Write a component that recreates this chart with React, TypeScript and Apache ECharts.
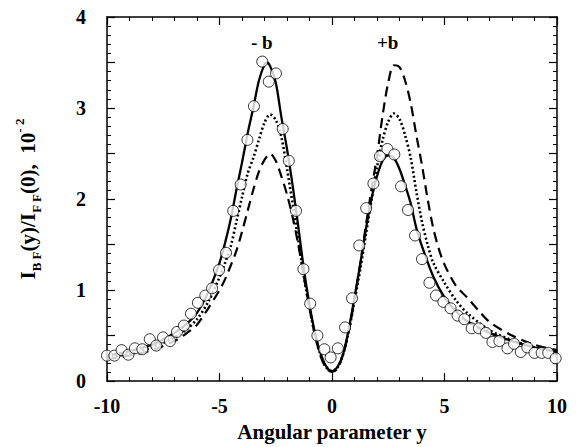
import React, { useEffect, useRef } from "react";
import * as echarts from "echarts";

const FONT = "'Liberation Serif', 'Times New Roman', serif";

const solidX = [-10, -9, -8, -7.5, -7, -6.5, -6, -5.5, -5, -4.75, -4.5, -4.25, -4, -3.75, -3.5, -3.25, -3, -2.9, -2.75, -2.5, -2.25, -2, -1.75, -1.5, -1.25, -1, -0.75, -0.5, -0.25, 0, 0.25, 0.5, 0.75, 1, 1.25, 1.5, 1.75, 2, 2.25, 2.5, 2.75, 3, 3.25, 3.5, 3.75, 4, 4.5, 5, 5.5, 6, 7, 8, 9, 10];
const solidY = [0.28, 0.33, 0.4, 0.46, 0.53, 0.62, 0.75, 0.98, 1.3, 1.52, 1.78, 2.1, 2.4, 2.72, 3.0, 3.3, 3.48, 3.5, 3.46, 3.28, 2.9, 2.55, 2.15, 1.7, 1.23, 0.84, 0.52, 0.3, 0.16, 0.11, 0.16, 0.3, 0.58, 0.92, 1.28, 1.66, 2.0, 2.25, 2.42, 2.48, 2.45, 2.33, 2.15, 1.95, 1.68, 1.48, 1.15, 0.92, 0.77, 0.66, 0.53, 0.44, 0.37, 0.32];

const dottedX = [-10, -9, -8, -7, -6.5, -6, -5.5, -5, -4.75, -4.5, -4.25, -4, -3.75, -3.5, -3.25, -3, -2.75, -2.5, -2.25, -2, -1.75, -1.5, -1.25, -1, -0.75, -0.5, -0.25, 0, 0.25, 0.5, 0.75, 1, 1.25, 1.5, 1.75, 2, 2.25, 2.5, 2.75, 3, 3.25, 3.5, 3.75, 4, 4.25, 4.5, 5, 5.5, 6, 7, 8, 9, 10];
const dottedY = [0.26, 0.3, 0.37, 0.48, 0.56, 0.68, 0.87, 1.14, 1.3, 1.48, 1.75, 2.02, 2.28, 2.45, 2.65, 2.84, 2.93, 2.87, 2.68, 2.33, 1.95, 1.55, 1.15, 0.8, 0.5, 0.28, 0.15, 0.11, 0.15, 0.3, 0.55, 0.88, 1.22, 1.6, 1.98, 2.35, 2.65, 2.85, 2.94, 2.88, 2.7, 2.45, 2.08, 1.75, 1.5, 1.3, 1.08, 0.89, 0.75, 0.56, 0.45, 0.37, 0.32];

const dashedX = [-10, -9, -8, -7, -6.5, -6, -5.5, -5, -4.75, -4.5, -4.25, -4, -3.75, -3.5, -3.25, -3, -2.75, -2.5, -2.25, -2, -1.75, -1.5, -1.25, -1, -0.75, -0.5, -0.25, 0, 0.25, 0.5, 0.75, 1, 1.25, 1.5, 1.75, 2, 2.25, 2.5, 2.75, 3, 3.25, 3.5, 3.75, 4, 4.25, 4.5, 4.75, 5, 5.5, 6, 6.5, 7, 8, 9, 10];
const dashedY = [0.24, 0.28, 0.34, 0.44, 0.52, 0.62, 0.8, 1.0, 1.12, 1.27, 1.43, 1.64, 1.87, 2.1, 2.3, 2.43, 2.5, 2.42, 2.25, 2.05, 1.8, 1.5, 1.15, 0.8, 0.5, 0.27, 0.14, 0.1, 0.14, 0.3, 0.55, 0.9, 1.28, 1.7, 2.1, 2.47, 2.92, 3.28, 3.47, 3.45, 3.3, 3.05, 2.7, 2.37, 2.0, 1.68, 1.45, 1.28, 1.05, 0.92, 0.78, 0.65, 0.5, 0.4, 0.34];

const circleX = [-10.0, -9.67, -9.35, -9.05, -8.76, -8.43, -8.1, -7.81, -7.51, -7.2, -6.89, -6.58, -6.27, -5.96, -5.63, -5.33, -5.02, -4.71, -4.39, -4.06, -3.76, -3.47, -3.1, -2.81, -2.49, -2.19, -1.92, -1.6, -1.27, -0.97, -0.65, -0.34, -0.06, 0.26, 0.58, 0.89, 1.21, 1.52, 1.84, 2.13, 2.46, 2.77, 3.07, 3.38, 3.69, 4.0, 4.33, 4.62, 4.95, 5.27, 5.58, 5.88, 6.21, 6.53, 6.84, 7.13, 7.44, 7.8, 8.09, 8.39, 8.68, 9.0, 9.32, 9.61, 9.94];
const circleY = [0.28, 0.28, 0.34, 0.29, 0.36, 0.35, 0.46, 0.39, 0.48, 0.44, 0.54, 0.61, 0.74, 0.86, 0.94, 1.02, 1.22, 1.41, 1.87, 2.16, 2.65, 3.02, 3.51, 3.29, 3.38, 2.77, 2.42, 1.87, 1.23, 0.85, 0.5, 0.35, 0.26, 0.36, 0.59, 0.91, 1.49, 1.9, 2.17, 2.47, 2.55, 2.49, 2.14, 1.88, 1.6, 1.34, 1.08, 0.94, 0.87, 0.8, 0.72, 0.68, 0.58, 0.58, 0.53, 0.43, 0.44, 0.36, 0.41, 0.32, 0.37, 0.31, 0.31, 0.31, 0.25];

const xTickLabels = ["-10", "-5", "0", "5", "10"];
const yTickLabels = ["0", "1", "2", "3", "4"];

const zip = (xs: number[], ys: number[]) => xs.map((x, i) => [x, ys[i]]);

export default function App() {
  const ref = useRef<HTMLDivElement>(null);
  useEffect(() => {
    if (!ref.current) return;
    const chart = echarts.init(ref.current, undefined, { renderer: "svg" });
    const axisCommon = {
      axisLine: { show: true, onZero: false, lineStyle: { color: "#000", width: 1.5 } },
      axisTick: { show: true, inside: true, length: 8, lineStyle: { color: "#000", width: 1.2 } },
      minorTick: { show: true, length: 4, lineStyle: { color: "#000", width: 1 } },
      splitLine: { show: false },
    };
    const xLabelMap: Record<string, string> = {};
    [-10, -5, 0, 5, 10].forEach((v, i) => (xLabelMap[String(v)] = xTickLabels[i]));
    const yLabelMap: Record<string, string> = {};
    [0, 1, 2, 3, 4].forEach((v, i) => (yLabelMap[String(v)] = yTickLabels[i]));

    chart.setOption({
      animation: false,
      backgroundColor: "#fff",
      grid: { left: 107, top: 17, right: 22, bottom: 64, containLabel: false },
      xAxis: [
        {
          type: "value",
          min: -10,
          max: 10,
          interval: 5,
          position: "bottom",
          ...axisCommon,
          minorTick: { ...axisCommon.minorTick, splitNumber: 5 },
          axisLabel: {
            margin: 15,
            color: "#000",
            fontFamily: FONT,
            fontWeight: "bold",
            fontSize: 20,
            formatter: (v: number) => xLabelMap[String(v)] ?? "",
          },
          name: "Angular parameter y",
          nameLocation: "middle",
          nameGap: 36,
          nameTextStyle: { color: "#000", fontFamily: FONT, fontWeight: "bold", fontSize: 21 },
        },
        {
          type: "value",
          min: -10,
          max: 10,
          interval: 5,
          position: "top",
          ...axisCommon,
          minorTick: { ...axisCommon.minorTick, splitNumber: 5 },
          axisLabel: { show: false },
        },
      ],
      yAxis: [
        {
          type: "value",
          min: 0,
          max: 4,
          interval: 0.5,
          position: "left",
          ...axisCommon,
          minorTick: { ...axisCommon.minorTick, splitNumber: 5 },
          axisLabel: {
            margin: 21,
            color: "#000",
            fontFamily: FONT,
            fontWeight: "bold",
            fontSize: 20,
            formatter: (v: number) => yLabelMap[String(v)] ?? "",
          },
          name: "{m|I}{s|B F}{m|(y)/I}{s|F F}{m|(0),  10}{p|- 2}",
          nameLocation: "middle",
          nameRotate: 90,
          nameGap: 64,
          nameTextStyle: {
            color: "#000",
            fontFamily: FONT,
            fontWeight: "bold",
            rich: {
              m: { fontFamily: FONT, fontWeight: "bold", fontSize: 21, color: "#000", lineHeight: 30, verticalAlign: "middle" },
              s: { fontFamily: FONT, fontWeight: "bold", fontSize: 13, color: "#000", lineHeight: 30, verticalAlign: "bottom", padding: [12, 0, 0, 0] },
              p: { fontFamily: FONT, fontWeight: "bold", fontSize: 13, color: "#000", lineHeight: 30, verticalAlign: "top", padding: [0, 0, 12, 0] },
            },
          },
        },
        {
          type: "value",
          min: 0,
          max: 4,
          interval: 0.5,
          position: "right",
          ...axisCommon,
          minorTick: { ...axisCommon.minorTick, splitNumber: 5 },
          axisLabel: { show: false },
        },
      ],
      graphic: [
        { type: "text", left: 251, top: 33, style: { text: "- b", font: `bold 19px ${FONT}`, fill: "#000" } },
        { type: "text", left: 377, top: 33, style: { text: "+b", font: `bold 19px ${FONT}`, fill: "#000" } },
      ],
      series: [
        {
          type: "line",
          data: zip(solidX, solidY),
          smooth: 0.3,
          showSymbol: false,
          lineStyle: { color: "#000", width: 2.3, type: "solid" },
          z: 2,
        },
        {
          type: "line",
          data: zip(dottedX, dottedY),
          smooth: 0.3,
          showSymbol: false,
          lineStyle: { color: "#000", width: 2.6, type: [2, 2.5] },
          z: 2,
        },
        {
          type: "line",
          data: zip(dashedX, dashedY),
          smooth: 0.3,
          showSymbol: false,
          lineStyle: { color: "#000", width: 2.2, type: [10, 6] },
          z: 2,
        },
        {
          type: "scatter",
          data: zip(circleX, circleY),
          symbol: "circle",
          symbolSize: 11,
          itemStyle: { color: "#fff", borderColor: "#000", borderWidth: 1 },
          z: 5,
        },
      ],
    });
    return () => chart.dispose();
  }, []);
  return <div ref={ref} style={{ width: 579, height: 447, position: "absolute", left: 0, top: 0 }} />;
}
